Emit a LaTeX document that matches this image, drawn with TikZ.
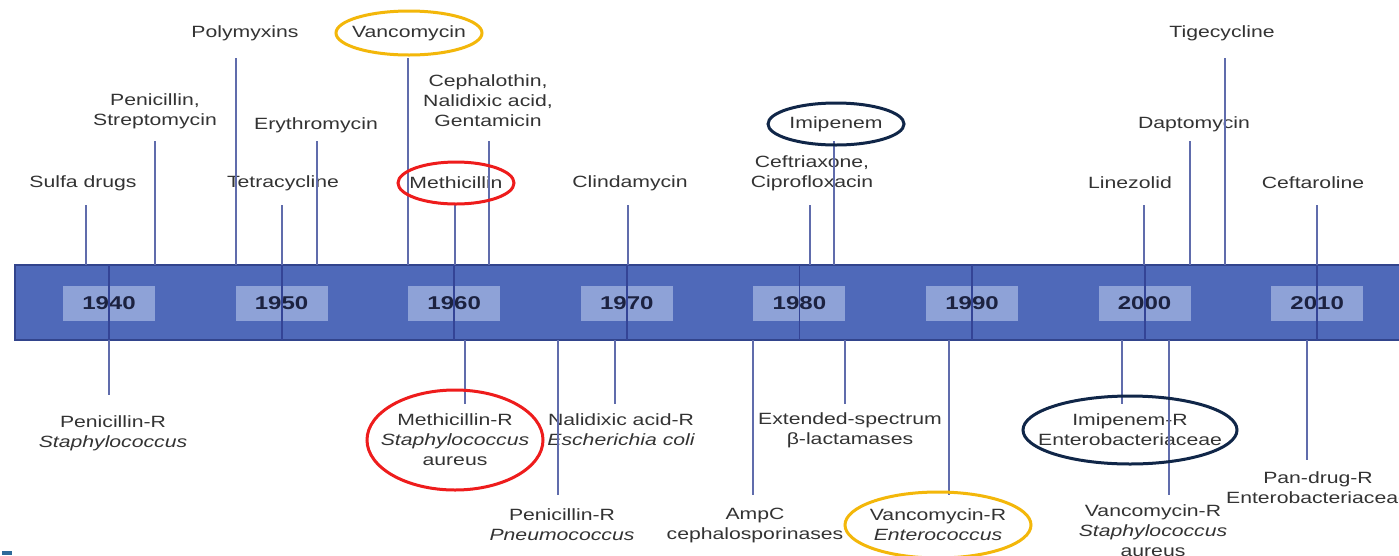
\documentclass[tikz,border=0pt]{standalone}
\usepackage{fontspec}
\setmainfont{Liberation Sans}[FakeStretch=1.3]
\definecolor{barc}{RGB}{79,105,185}
\definecolor{barline}{RGB}{50,68,140}
\definecolor{boxc}{RGB}{142,162,215}
\definecolor{tickc}{RGB}{96,108,172}
\definecolor{thruc}{RGB}{52,68,150}
\definecolor{yearc}{RGB}{28,34,64}
\definecolor{ringorange}{RGB}{243,183,10}
\definecolor{ringred}{RGB}{238,28,28}
\definecolor{ringnavy}{RGB}{16,38,72}
\definecolor{markc}{RGB}{45,106,154}
\begin{document}
\begin{tikzpicture}[x=1pt,y=-1pt,
  lbl/.style={font=\fontsize{16.3}{20}\selectfont, text=black!80, align=center, inner sep=0pt},
  tick/.style={draw=tickc, line width=2.4pt},
  thru/.style={draw=thruc, line width=1.8pt},
  yearbox/.style={fill=boxc, minimum width=92pt, minimum height=35pt, inner sep=0pt,
     font=\fontsize{18.5}{20}\selectfont\bfseries, text=yearc},
  ring/.style={line width=3pt}]
\useasboundingbox (0,0) rectangle (1399,555);
\fill[white] (0,0) rectangle (1399,555);
% bar
\fill[barc] (15,265) rectangle (1399,340);
\draw[barline, line width=1.5pt] (1399,265) -- (15,265) -- (15,340) -- (1399,340);
\coordinate (bt) at (0,265);
\coordinate (bb) at (0,340);
% year boxes
\foreach \yr [count=\i from 0] in {1940,1950,1960,1970,1980,1990,2000,2010}
  \node[yearbox] (y\yr) at (109+172.6*\i, 303) {\yr};
\foreach \yr in {1940,1950,1960,1970,1980,1990,2000,2010}
  \draw[thru] (y\yr.center |- bt) -- (y\yr.center |- bb);
% top events
\node[lbl] (sulfa) at (83,183) {Sulfa drugs};
\coordinate (sulfa-t) at (86,205);
\node[lbl] (pen) at (155,111) {Penicillin,\\Streptomycin};
\coordinate (pen-t) at (155,141);
\node[lbl] (poly) at (245,33) {Polymyxins};
\coordinate (poly-t) at (236,58);
\node[lbl] (tetra) at (283,183) {Tetracycline};
\coordinate (tetra-t) at (282,205);
\node[lbl] (ery) at (316,125) {Erythromycin};
\coordinate (ery-t) at (317,141);
\node[lbl] (vanc) at (409,33) {Vancomycin};
\coordinate (vanc-t) at (408,58);
\node[lbl] (ceph) at (488,101) {Cephalothin,\\Nalidixic acid,\\Gentamicin};
\coordinate (ceph-t) at (489,141);
\node[lbl] (meth) at (456,183) {Methicillin};
\coordinate (meth-t) at (455,205);
\node[lbl] (clin) at (630,183) {Clindamycin};
\coordinate (clin-t) at (628,205);
\node[lbl] (ceft) at (812,173) {Ceftriaxone,\\Ciprofloxacin};
\coordinate (ceft-t) at (810,205);
\node[lbl] (imi) at (836,124) {Imipenem};
\coordinate (imi-t) at (834,141);
\node[lbl] (tige) at (1222,33) {Tigecycline};
\coordinate (tige-t) at (1225,58);
\node[lbl] (dapto) at (1194,124) {Daptomycin};
\coordinate (dapto-t) at (1190,141);
\node[lbl] (line) at (1130,183) {Linezolid};
\coordinate (line-t) at (1144,205);
\node[lbl] (ceftaro) at (1313,183) {Ceftaroline};
\coordinate (ceftaro-t) at (1317,205);
\foreach \n in {sulfa,pen,poly,tetra,ery,vanc,ceph,meth,clin,ceft,imi,tige,dapto,line,ceftaro}
  \draw[tick] (\n-t) -- (\n-t |- bt);
% bottom events
\node[lbl] (penS) at (113,433) {Penicillin-R\\\itshape Staphylococcus};
\coordinate (penS-b) at (109,395);
\node[lbl] (mrsa) at (455,440) {Methicillin-R\\\itshape Staphylococcus\\aureus};
\coordinate (mrsa-b) at (465,404);
\node[lbl] (penP) at (562,525) {Penicillin-R\\\itshape Pneumococcus};
\coordinate (penP-b) at (558,495);
\node[lbl] (nal) at (621,430) {Nalidixic acid-R\\\itshape Escherichia coli};
\coordinate (nal-b) at (615,404);
\node[lbl] (ampc) at (755,525) {AmpC\\cephalosporinases};
\coordinate (ampc-b) at (753,495);
\node[lbl] (esbl) at (850,430) {Extended-spectrum\\β-lactamases};
\coordinate (esbl-b) at (845,404);
\node[lbl] (vre) at (938,525) {Vancomycin-R\\\itshape Enterococcus};
\coordinate (vre-b) at (949,495);
\node[lbl] (imiR) at (1130,430) {Imipenem-R\\Enterobacteriaceae};
\coordinate (imiR-b) at (1122,404);
\node[lbl] (vrsa) at (1153,531) {Vancomycin-R\\\itshape Staphylococcus\\aureus};
\coordinate (vrsa-b) at (1169,495);
\node[lbl] (pan) at (1318,488) {Pan-drug-R\\Enterobacteriaceae};
\coordinate (pan-b) at (1307,460);
\foreach \n in {penS,mrsa,penP,nal,ampc,esbl,vre,imiR,vrsa,pan}
  \draw[tick] (\n-b |- bb) -- (\n-b);
% highlight rings
\draw[ring, ringorange] (vanc.center) ellipse [x radius=73pt, y radius=22pt];
\draw[ring, ringred] (meth.center) ellipse [x radius=58pt, y radius=21pt];
\draw[ring, ringnavy] (imi.center) ellipse [x radius=68pt, y radius=21pt];
\draw[ring, ringred] (mrsa.center) ellipse [x radius=88pt, y radius=50pt];
\draw[ring, ringorange] (vre.center) ellipse [x radius=93pt, y radius=33pt];
\draw[ring, ringnavy] (imiR.center) ellipse [x radius=107pt, y radius=34pt];
% small mark
\fill[markc] (2,551) rectangle (12,555);
\end{tikzpicture}
\end{document}
